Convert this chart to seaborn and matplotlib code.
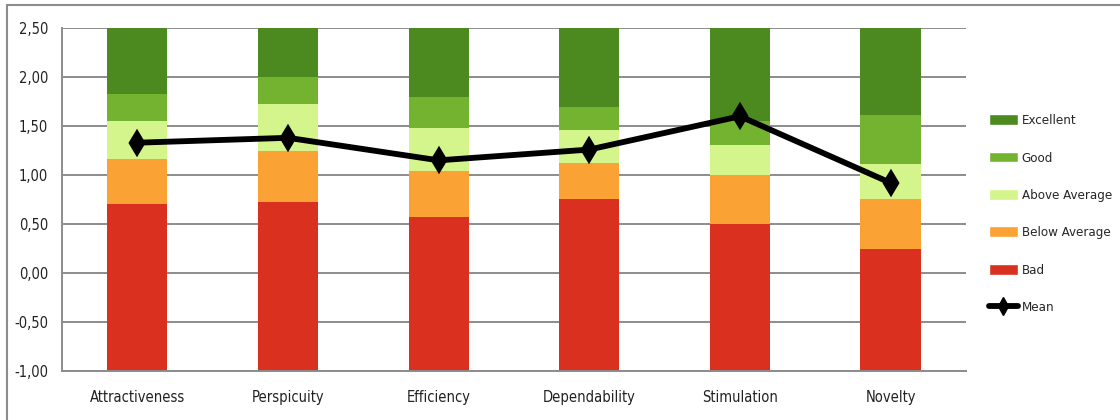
import numpy as np
import pandas as pd
import matplotlib
matplotlib.use("Agg")
import matplotlib.pyplot as plt
from matplotlib.patches import Patch, Rectangle
from matplotlib.lines import Line2D
from matplotlib.ticker import FuncFormatter
import seaborn as sns

# scales and benchmark borders (upper edge of each band)
scales = ['Attractiveness', 'Perspicuity', 'Efficiency', 'Dependability', 'Stimulation', 'Novelty']
bad_top = [0.70, 0.72, 0.57, 0.76, 0.50, 0.24]
below_top = [1.16, 1.25, 1.04, 1.12, 1.00, 0.76]
above_top = [1.55, 1.73, 1.48, 1.46, 1.31, 1.11]
good_top = [1.83, 2.00, 1.80, 1.69, 1.55, 1.61]
excellent_top = [2.50, 2.50, 2.50, 2.50, 2.50, 2.50]
mean = [1.33, 1.38, 1.15, 1.26, 1.60, 0.92]

bands = ['Bad', 'Below Average', 'Above Average', 'Good', 'Excellent']
colors = {'Bad': '#D9301F', 'Below Average': '#FBA235', 'Above Average': '#D4F58C',
          'Good': '#73B32F', 'Excellent': '#4C8A20'}

sns.set_style('white')
plt.rcParams['font.family'] = ['DejaVu Sans']
plt.rcParams['font.stretch'] = 'condensed'

fig = plt.figure(figsize=(11.2, 4.2), dpi=100)
ax = fig.add_axes([0.0554, 0.117, 0.807, 0.816])

df = pd.DataFrame({'scale': scales, 'Bad': bad_top, 'Below Average': below_top,
                   'Above Average': above_top, 'Good': good_top, 'Excellent': excellent_top})
floor = -1.0
lower = [floor] * len(scales)
for b in bands:
    heights = [t - l for t, l in zip(df[b], lower)]
    sns.barplot(x=df['scale'], y=heights, bottom=lower, color=colors[b], width=0.40,
                saturation=1, ax=ax, zorder=2, linewidth=0)
    lower = list(df[b])

sns.pointplot(x=scales, y=mean, color='black', markers='d', linestyles='-',
              markersize=10, linewidth=4.2, ax=ax, zorder=5)

ax.set_xlim(-0.5, 5.5)
ax.set_ylim(-1.0, 2.5)
ax.set_yticks(np.arange(-1.0, 2.51, 0.5))
ax.yaxis.set_major_formatter(FuncFormatter(lambda v, p: f'{v:.2f}'.replace('.', ',')))
ax.yaxis.grid(True, color='#8C8C8C', linewidth=1.4, zorder=0)
ax.set_axisbelow(True)
ax.set_xlabel('')
ax.set_ylabel('')

ax.set_xticks(np.arange(-0.5, 6, 1), minor=True)
ax.tick_params(axis='x', which='major', length=0, pad=14, labelsize=10.5, colors='#222222')
ax.tick_params(axis='x', which='minor', length=6, width=1.2, color='#8C8C8C')
ax.tick_params(axis='y', length=4, width=1.2, pad=6, color='#8C8C8C', labelsize=10.5,
               labelcolor='#222222')
for s in ['top', 'right']:
    ax.spines[s].set_visible(False)
for s in ['left', 'bottom']:
    ax.spines[s].set_color('#8C8C8C')
    ax.spines[s].set_linewidth(1.4)

handles = [Patch(facecolor=colors[b], label=b) for b in reversed(bands)]
handles.append(Line2D([0], [0], color='black', lw=4.2, marker='d', markersize=9, label='Mean'))
fig.legend(handles=handles, loc='center left', bbox_to_anchor=(0.872, 0.49), frameon=False,
           fontsize=9.5, handlelength=2.2, handleheight=0.9, labelspacing=1.85,
           handletextpad=0.3, borderpad=0.4)

# chart frame, cut off at the right and bottom
fig.patches.append(Rectangle((7 / 1120, -0.05), 1.2, 1.05 - 5 / 420, transform=fig.transFigure,
                             fill=False, edgecolor='#8C8C8C', linewidth=1.5))

fig.savefig('out.png', dpi=100)
